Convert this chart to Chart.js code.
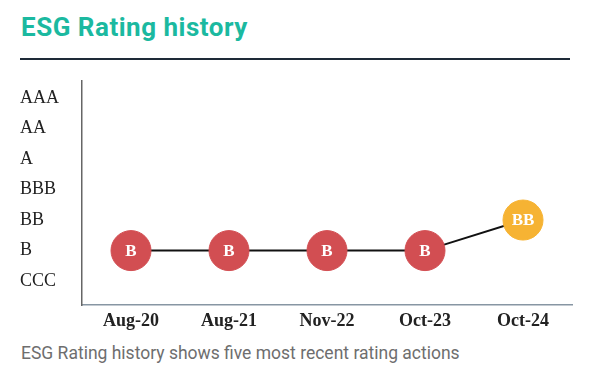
<!DOCTYPE html>
<html>
<head>
<meta charset="utf-8">
<script src="https://cdn.jsdelivr.net/npm/chart.js@4"></script>
<style>
  html, body { margin: 0; padding: 0; background: #fff; }
  #wrap { position: relative; width: 600px; height: 371px; overflow: hidden; }
  #title { position: absolute; left: 21px; top: 12px; font: bold 26px Roboto, sans-serif; color: #1bb9a0; letter-spacing: 0.5px; line-height: normal; }
  #rule { position: absolute; left: 20px; top: 58px; width: 550px; height: 2px; background: #1e2a38; }
  #chartBox { position: absolute; left: 0; top: 60px; width: 600px; height: 280px; }
  #note { position: absolute; left: 21px; top: 343px; font: 17.5px Roboto, sans-serif; color: #6e6e6e; line-height: normal; }
</style>
</head>
<body>
<div id="wrap">
  <div id="title">ESG Rating history</div>
  <div id="rule"></div>
  <div id="chartBox"><canvas id="c"></canvas></div>
  <div id="note">ESG Rating history shows five most recent rating actions</div>
</div>
<script>
// rating scale, lowest first
const SCALE = ['CCC', 'B', 'BB', 'BBB', 'A', 'AA', 'AAA'];
const DATES = ['Aug-20', 'Aug-21', 'Nov-22', 'Oct-23', 'Oct-24'];
const RATINGS = ['B', 'B', 'B', 'B', 'BB'];
const COLORS = { B: '#d24e52', BB: '#f6b333' };

const values = RATINGS.map(r => SCALE.indexOf(r));
const pointColors = RATINGS.map(r => COLORS[r]);

// writes the rating letters inside each marker
const pointText = {
  id: 'pointText',
  afterDatasetsDraw(chart) {
    const ctx = chart.ctx;
    const meta = chart.getDatasetMeta(0);
    ctx.save();
    ctx.fillStyle = '#fff';
    ctx.font = 'bold 17px "Liberation Serif", serif';
    ctx.textAlign = 'center';
    ctx.textBaseline = 'middle';
    meta.data.forEach((pt, i) => ctx.fillText(RATINGS[i], pt.x, pt.y + 1));
    ctx.restore();
  }
};

new Chart(document.getElementById('c'), {
  type: 'line',
  data: {
    labels: DATES,
    datasets: [{
      data: values,
      borderColor: '#111',
      borderWidth: 2,
      pointRadius: 20,
      pointHoverRadius: 20,
      pointBackgroundColor: pointColors,
      pointBorderColor: pointColors,
      pointBorderWidth: 1,
      tension: 0
    }]
  },
  options: {
    responsive: true,
    maintainAspectRatio: false,
    animation: false,
    layout: { padding: { left: 20, top: 20, right: 28, bottom: 0 } },
    plugins: { legend: { display: false }, tooltip: { enabled: false } },
    scales: {
      x: {
        type: 'category',
        offset: true,
        grid: { display: false, drawTicks: false },
        border: { display: true, color: '#8796a3', width: 1.5 },
        ticks: { padding: 6, color: '#222', font: { family: '"Liberation Serif", serif', size: 18, weight: 'bold' } },
        afterFit(s) { s.height = 35; }
      },
      y: {
        min: -0.78,
        max: 6.55,
        grid: { display: false, drawTicks: false },
        border: { display: true, color: '#666', width: 1.5 },
        afterBuildTicks(s) { s.ticks = SCALE.map((_, i) => ({ value: i })); },
        ticks: {
          crossAlign: 'far',
          color: '#222',
          font: { family: '"Liberation Serif", serif', size: 18 },
          callback: v => SCALE[v]
        },
        afterFit(s) { s.width = 62; }
      }
    }
  },
  plugins: [pointText]
});
</script>
</body>
</html>
